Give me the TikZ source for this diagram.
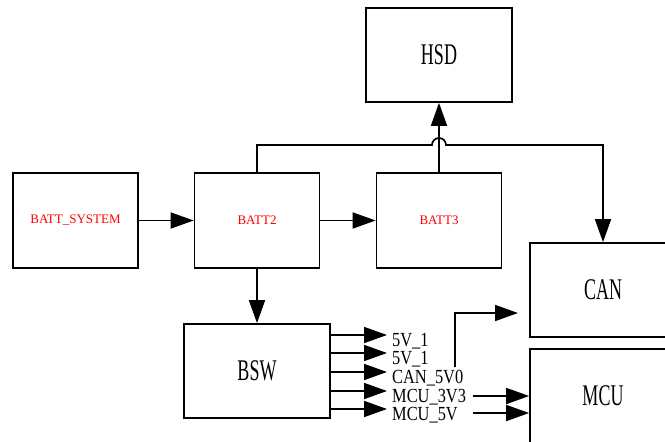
\documentclass[tikz,border=0pt]{standalone}
\usepackage{fontspec}
\setmainfont{Liberation Serif}
\newfontfamily\boxfont[FakeStretch=0.6]{Liberation Serif}
\newfontfamily\sigfont[FakeStretch=0.82]{Liberation Serif}
\usetikzlibrary{arrows.meta}

\tikzset{
  box/.style={draw, line width=1.7pt, minimum width=146, minimum height=94, inner sep=0pt,
    font=\boxfont\fontsize{30}{32}\selectfont},
  battbox/.style={draw, line width=1.7pt, minimum width=125, minimum height=95, inner sep=0pt,
    text=red, font=\fontsize{13}{15}\selectfont},
  sig/.style={inner sep=0pt, anchor=base west, font=\sigfont\fontsize{20}{21}\selectfont},
  arr/.style={line width=1.7pt, -{Triangle[length=23pt, width=16pt]}},
}

\begin{document}
\begin{tikzpicture}[x=1pt, y=-1pt]
\useasboundingbox (0,0) rectangle (665,442);
\node[box] (hsd) at (439,55) {HSD};
\node[battbox] (bs) at (75.5,220.5) {BATT\_SYSTEM};
\node[battbox] (b2) at (257,220.5) {BATT2};
\node[battbox] (b3) at (439,220.5) {BATT3};
\node[box] (bsw) at (257,371) {BSW};
\node[box] (can) at (603,290) {CAN};
\node[box] (mcu) at (603,396) {MCU};
\draw[arr] (bs.east) -- (b2.west);
\draw[arr] (b2.east) -- (b3.west);
\draw[arr] (b3.north) -- (hsd.south);
\draw[arr] (b2.south) -- (bsw.north);
\coordinate (jmp) at (432,145);
\draw[arr] (b2.north) |- (jmp) arc[start angle=180, end angle=0, radius=7pt] -| (can.north);
\coordinate (o1) at (387,335);
\coordinate (o2) at (387,353);
\coordinate (o3) at (387,372);
\coordinate (o4) at (387,391);
\coordinate (o5) at (387,409);
\draw[arr] (bsw.east |- o1) -- (o1);
\draw[arr] (bsw.east |- o2) -- (o2);
\draw[arr] (bsw.east |- o3) -- (o3);
\draw[arr] (bsw.east |- o4) -- (o4);
\draw[arr] (bsw.east |- o5) -- (o5);
\node[sig] (l1) at (392,346) {5V\_1};
\node[sig] (l2) at (392,364) {5V\_1};
\node[sig] (l3) at (392,383) {CAN\_5V0};
\node[sig] (l4) at (392,402) {MCU\_3V3};
\node[sig] (l5) at (392,420) {MCU\_5V};
\coordinate (c5s) at (455,367);
\coordinate (c5t) at (518,313);
\draw[arr] (c5s) |- (c5t);
\coordinate (m1) at (473,396);
\coordinate (m2) at (473,413);
\draw[arr] (m1) -- (mcu.west |- m1);
\draw[arr] (m2) -- (mcu.west |- m2);
\end{tikzpicture}
\end{document}
